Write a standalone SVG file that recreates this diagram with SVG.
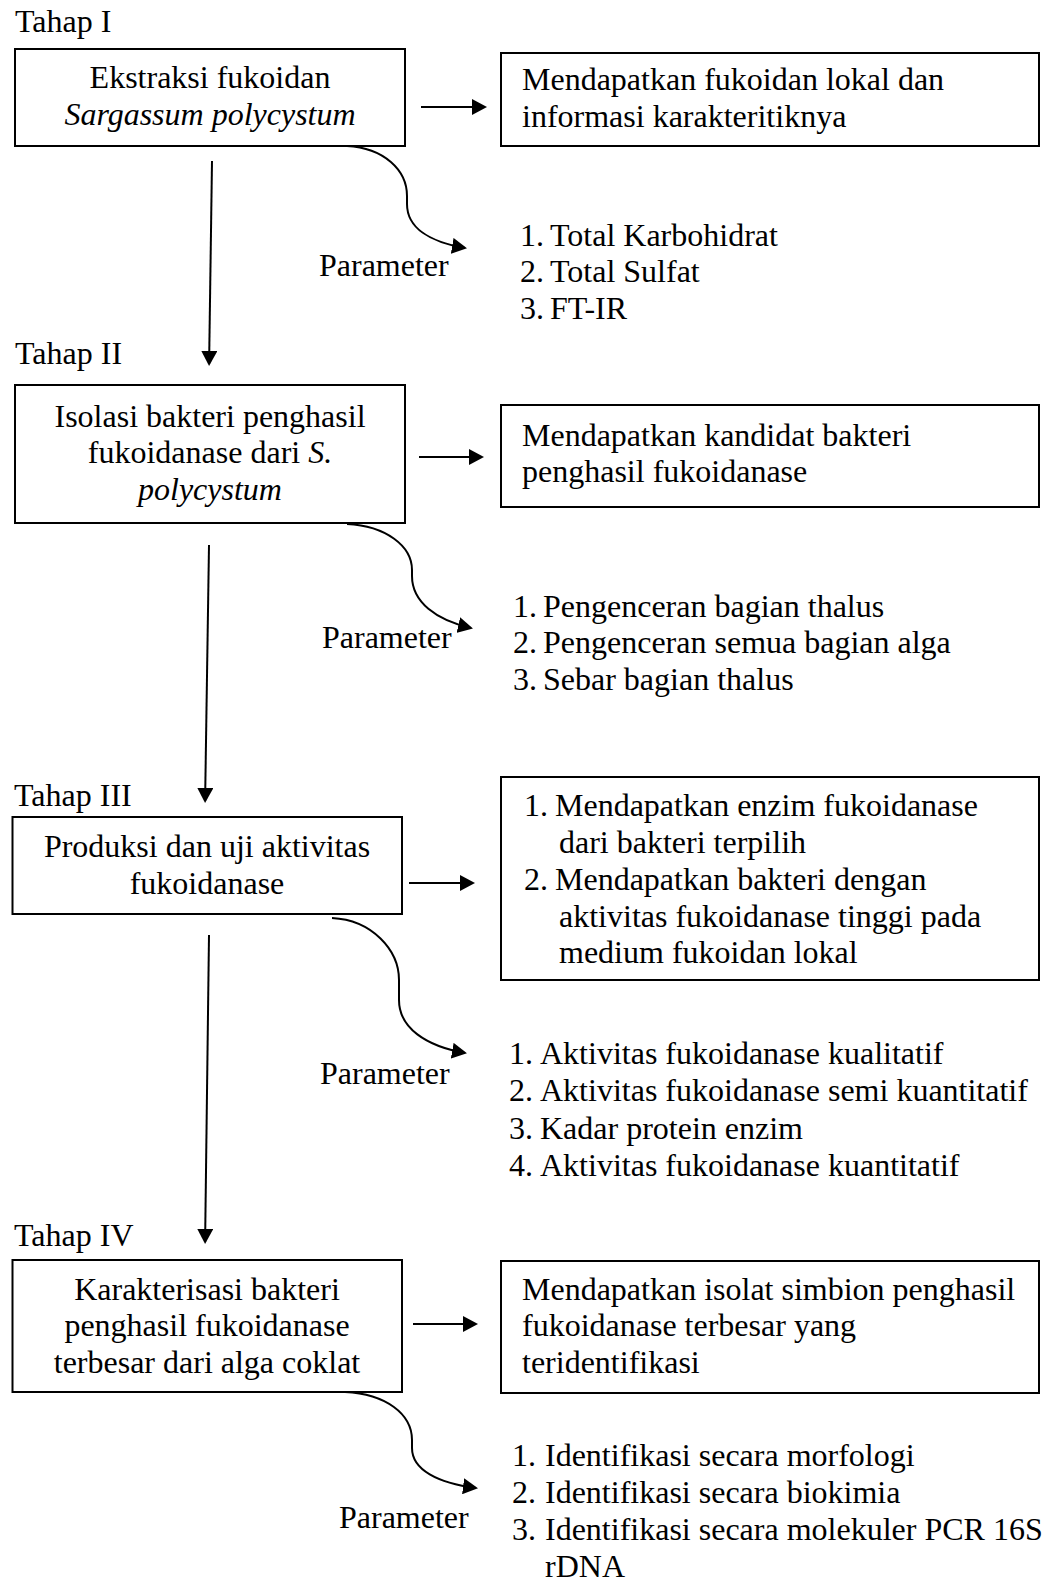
<svg xmlns="http://www.w3.org/2000/svg" width="1046" height="1579" viewBox="0 0 1046 1579">
<style>
text{font-family:"Liberation Serif","Times New Roman",serif;font-size:32px;fill:#000}
.c{text-anchor:middle}
.i{font-style:italic}
.box{fill:#fff;stroke:#000;stroke-width:2}
.ln{fill:none;stroke:#000;stroke-width:2}
</style>
<defs>
<marker id="ah" viewBox="0 0 15 16" refX="13" refY="8" markerWidth="15" markerHeight="16" markerUnits="userSpaceOnUse" orient="auto"><path d="M0,0 L15,8 L0,16 z" fill="#000"/></marker>
</defs>
<rect width="1046" height="1579" fill="#fff"/>

<g id="labels">
<text x="15" y="32">Tahap I</text>
<text x="15" y="364">Tahap II</text>
<text x="14" y="806">Tahap III</text>
<text x="14" y="1246">Tahap IV</text>
</g>

<g id="connectors">
<path class="ln" d="M212,161 L209.1,364" marker-end="url(#ah)"/>
<path class="ln" d="M209,545 L205.1,801" marker-end="url(#ah)"/>
<path class="ln" d="M209,935 L205.1,1242" marker-end="url(#ah)"/>
<path class="ln" d="M421,107 L485,107" marker-end="url(#ah)"/>
<path class="ln" d="M419,457 L482,457" marker-end="url(#ah)"/>
<path class="ln" d="M409,883 L473,883" marker-end="url(#ah)"/>
<path class="ln" d="M413,1324 L476,1324" marker-end="url(#ah)"/>
<path class="ln" d="M347,146 C384,148 407,170 407,196 L407,204 C407,228 430,242 465,248" marker-end="url(#ah)"/>
<path class="ln" d="M347,524 C386,526 412,546 412,570 L412,576 C412,602 436,620 471,628" marker-end="url(#ah)"/>
<path class="ln" d="M332,918 C372,920 399,950 399,980 L399,1000 C399,1028 426,1046 465,1053" marker-end="url(#ah)"/>
<path class="ln" d="M345,1392 C386,1394 412,1414 412,1440 L412,1448 C412,1470 438,1483 476,1488" marker-end="url(#ah)"/>
</g>

<g id="node-1">
<rect class="box" x="15" y="49" width="390" height="97"/>
<text class="c" x="210" y="88">Ekstraksi fukoidan</text>
<text class="c i" x="210" y="125">Sargassum polycystum</text>
</g>
<g id="result-1">
<rect class="box" x="501" y="53" width="538" height="93"/>
<text x="522" y="90">Mendapatkan fukoidan lokal dan</text>
<text x="522" y="127">informasi karakteritiknya</text>
</g>
<g id="param-1">
<text x="319" y="276">Parameter</text>
<text x="520" y="246">1.<tspan x="550">Total Karbohidrat</tspan></text>
<text x="520" y="282">2.<tspan x="550">Total Sulfat</tspan></text>
<text x="520" y="319">3.<tspan x="550">FT-IR</tspan></text>
</g>

<g id="node-2">
<rect class="box" x="15" y="385" width="390" height="138"/>
<text class="c" x="210" y="427">Isolasi bakteri penghasil</text>
<text class="c" x="210" y="463">fukoidanase dari <tspan class="i">S.</tspan></text>
<text class="c i" x="210" y="500">polycystum</text>
</g>
<g id="result-2">
<rect class="box" x="501" y="405" width="538" height="102"/>
<text x="522" y="446">Mendapatkan kandidat bakteri</text>
<text x="522" y="482">penghasil fukoidanase</text>
</g>
<g id="param-2">
<text x="322" y="648">Parameter</text>
<text x="513" y="617">1.<tspan x="543">Pengenceran bagian thalus</tspan></text>
<text x="513" y="653">2.<tspan x="543">Pengenceran semua bagian alga</tspan></text>
<text x="513" y="690">3.<tspan x="543">Sebar bagian thalus</tspan></text>
</g>

<g id="node-3">
<rect class="box" x="12.5" y="817" width="389.5" height="97"/>
<text class="c" x="207" y="857">Produksi dan uji aktivitas</text>
<text class="c" x="207" y="894">fukoidanase</text>
</g>
<g id="result-3">
<rect class="box" x="501" y="777" width="538" height="203"/>
<text x="524" y="816">1.<tspan x="555">Mendapatkan enzim fukoidanase</tspan></text>
<text x="559" y="853">dari bakteri terpilih</text>
<text x="524" y="890">2.<tspan x="555">Mendapatkan bakteri dengan</tspan></text>
<text x="559" y="927">aktivitas fukoidanase tinggi pada</text>
<text x="559" y="963">medium fukoidan lokal</text>
</g>
<g id="param-3">
<text x="320" y="1084">Parameter</text>
<text x="509" y="1064">1.<tspan x="540">Aktivitas fukoidanase kualitatif</tspan></text>
<text x="509" y="1101">2.<tspan x="540">Aktivitas fukoidanase semi kuantitatif</tspan></text>
<text x="509" y="1139">3.<tspan x="540">Kadar protein enzim</tspan></text>
<text x="509" y="1176">4.<tspan x="540">Aktivitas fukoidanase kuantitatif</tspan></text>
</g>

<g id="node-4">
<rect class="box" x="12.5" y="1260" width="389.5" height="132"/>
<text class="c" x="207" y="1300">Karakterisasi bakteri</text>
<text class="c" x="207" y="1336">penghasil fukoidanase</text>
<text class="c" x="207" y="1373">terbesar dari alga coklat</text>
</g>
<g id="result-4">
<rect class="box" x="501" y="1261" width="538" height="132"/>
<text x="522" y="1300">Mendapatkan isolat simbion penghasil</text>
<text x="522" y="1336">fukoidanase terbesar yang</text>
<text x="522" y="1373">teridentifikasi</text>
</g>
<g id="param-4">
<text x="339" y="1528">Parameter</text>
<text x="512" y="1466">1.<tspan x="545">Identifikasi secara morfologi</tspan></text>
<text x="512" y="1503">2.<tspan x="545">Identifikasi secara biokimia</tspan></text>
<text x="512" y="1540">3.<tspan x="545">Identifikasi secara molekuler PCR 16S</tspan></text>
<text x="545" y="1577">rDNA</text>
</g>
</svg>
